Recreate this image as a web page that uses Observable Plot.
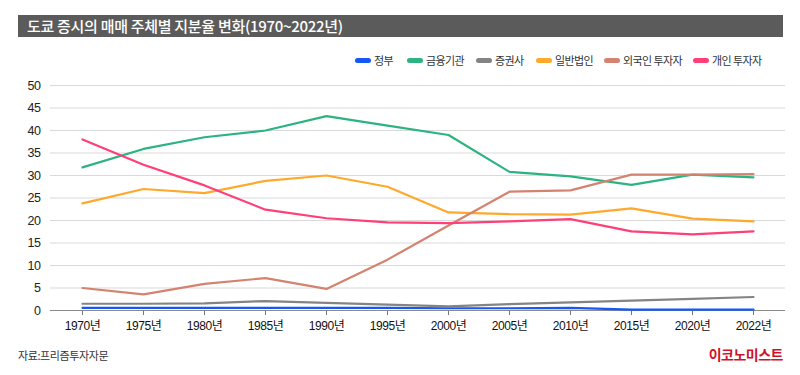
<!DOCTYPE html>
<html><head><meta charset="utf-8">
<script src="https://cdn.jsdelivr.net/npm/d3@7"></script>
<script src="https://cdn.jsdelivr.net/npm/@observablehq/plot@0.6"></script>
<style>
html,body{margin:0;padding:0;background:#fff;}
#wrap{position:relative;width:800px;height:375px;font-family:"Liberation Sans","Noto Sans CJK KR",sans-serif;overflow:hidden;}
#title{position:absolute;left:18px;top:15px;width:765px;height:22px;background:#5b5b5b;color:#fff;font-size:15px;line-height:22px;padding-left:9px;box-sizing:border-box;font-family:"Noto Sans CJK KR",sans-serif;font-weight:500;letter-spacing:-0.3px;}
#legend{position:absolute;top:52px;left:0;width:800px;height:16px;font-family:"Noto Sans CJK KR",sans-serif;font-size:11px;color:#333;}
.li{position:absolute;top:0;display:flex;align-items:center;height:16px;white-space:nowrap;letter-spacing:-0.6px;}
.sw{display:inline-block;width:16px;height:5px;border-radius:3px;margin-right:3px;}
#chart{position:absolute;left:0;top:70px;}
#chart svg text{letter-spacing:-0.4px;}
#src{position:absolute;left:18px;top:347px;font-size:11px;color:#333;font-family:"Noto Sans CJK KR",sans-serif;letter-spacing:-0.4px;}
#brand{position:absolute;right:17px;top:344px;font-size:14px;color:#d0112b;font-weight:bold;font-family:"Noto Sans CJK KR",sans-serif;letter-spacing:-0.5px;}
</style></head>
<body>
<div id="wrap">
  <div id="title">도쿄 증시의 매매 주체별 지분율 변화(1970~2022년)</div>
  <div id="legend"></div>
  <div id="chart"></div>
  <div id="src">자료:프리즘투자자문</div>
  <div id="brand">이코노미스트</div>
</div>
<script>
const years = ["1970년","1975년","1980년","1985년","1990년","1995년","2000년","2005년","2010년","2015년","2020년","2022년"];
const seriesNames = ["정부","금융기관","증권사","일반법인","외국인 투자자","개인 투자자"];
const seriesColors = ["#1558f5","#2db381","#848484","#ffa92c","#d3836f","#ff3f77"];
const government = [0.6,0.6,0.6,0.6,0.6,0.6,0.5,0.5,0.6,0.2,0.2,0.2];
const financial  = [31.8,35.9,38.5,40.0,43.2,41.1,39.0,30.8,29.8,27.9,30.2,29.6];
const securities = [1.5,1.5,1.6,2.1,1.7,1.3,0.9,1.4,1.8,2.2,2.6,3.0];
const corporate  = [23.8,27.0,26.1,28.8,30.0,27.5,21.8,21.4,21.3,22.7,20.4,19.8];
const foreign    = [5.0,3.6,5.9,7.2,4.8,11.3,18.9,26.4,26.7,30.2,30.2,30.3];
const individual = [38.0,32.4,27.8,22.4,20.5,19.6,19.4,19.8,20.3,17.6,16.9,17.6];
const yTicks = [0,5,10,15,20,25,30,35,40,45,50];

const allSeries = [government, financial, securities, corporate, foreign, individual];
const data = [];
allSeries.forEach((vals, si) => vals.forEach((v, i) => data.push({year: years[i], value: v, series: seriesNames[si]})));

// legend
const legendX = [355, 407, 476, 536, 604, 693];
const leg = document.getElementById("legend");
seriesNames.forEach((n, i) => {
  const d = document.createElement("div");
  d.className = "li";
  d.style.left = legendX[i] + "px";
  d.innerHTML = `<span class="sw" style="background:${seriesColors[i]}"></span>${n}`;
  leg.appendChild(d);
});

const chart = Plot.plot({
  width: 800,
  height: 270,
  marginTop: 15,
  marginBottom: 30,
  marginLeft: 50,
  marginRight: 15,
  style: {fontFamily: "'Liberation Sans','Noto Sans CJK KR',sans-serif", fontSize: "12px", color: "#222", background: "#fff"},
  x: {type: "point", domain: years, padding: 0.5, label: null},
  y: {domain: [0, 50], label: null},
  color: {domain: seriesNames, range: seriesColors},
  marks: [
    Plot.ruleY(yTicks.filter(d => d > 0), {stroke: "#d9d9d9", strokeWidth: 1.2}),
    Plot.axisY({ticks: yTicks, tickSize: 0, tickPadding: 10, label: null, fontSize: 12.5}),
    Plot.axisX({tickSize: 5, tickPadding: 6, label: null, stroke: "#777", fontSize: 12, fill: "#111"}),
    Plot.ruleY([0], {stroke: "#8a8a8a", strokeWidth: 1.2}),
    Plot.line(data, {x: "year", y: "value", z: "series", stroke: "series", strokeWidth: 2.2, curve: "linear"})
  ]
});
document.getElementById("chart").appendChild(chart);
</script>
</body></html>
